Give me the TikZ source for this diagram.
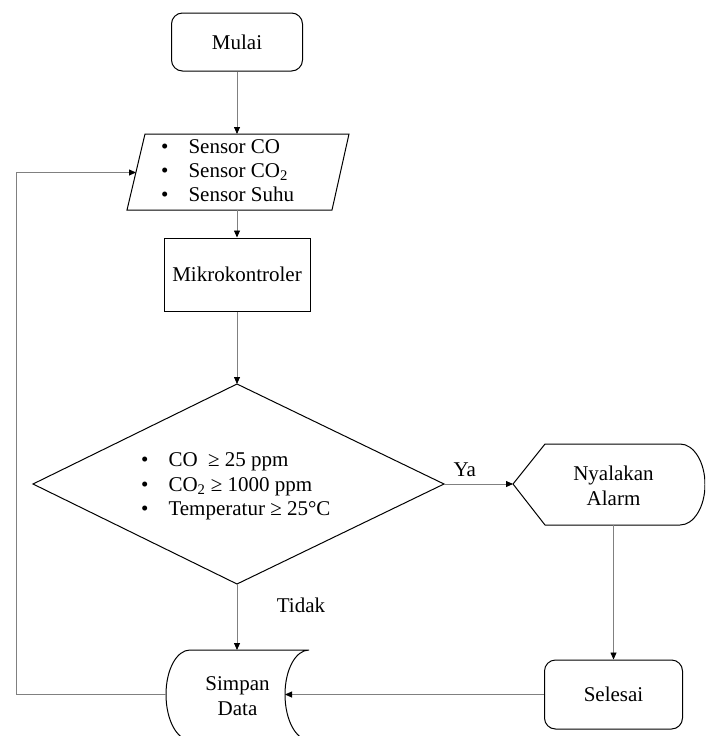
\documentclass[tikz,border=0pt]{standalone}
\usepackage{fontspec}
\setmainfont{Liberation Serif}
\usetikzlibrary{arrows.meta}
\definecolor{connc}{HTML}{808080}
\newcommand\myfs{\fontsize{21}{25}\selectfont}
\begin{document}
\begin{tikzpicture}[x=1pt,y=-1pt,
  outline/.style={draw=black, line width=1pt},
  term/.style={outline, rectangle, rounded corners=11pt, align=center, font=\myfs, inner sep=0},
  proc/.style={outline, rectangle, align=center, font=\myfs, inner sep=0},
  txt/.style={align=center, font=\myfs, inner sep=0},
  conn/.style={draw=connc, line width=0.8pt, -{Triangle[length=7pt,width=6pt,color=black]}},
  plain/.style={draw=connc, line width=0.8pt}]
\useasboundingbox (0,0) rectangle (705,736);
\clip (0,0) rectangle (705,736);

% Mulai
\node[term, minimum width=131pt, minimum height=58pt] (mulai) at (237,42) {Mulai};

% Sensor (parallelogram)
\draw[outline] (145,134) -- (349,134) -- (332,210) -- (127,210) -- cycle;
\coordinate (sensorN) at (237,134);
\coordinate (sensorS) at (237,210);
\coordinate (sensorW) at (136,172.5);
\node[anchor=west, inner sep=0] (sensortxt) at (161,172.5)
  {\fontsize{21}{24}\selectfont\begin{tabular}{@{}l@{\hspace{20pt}}l@{}}
   \textbullet & Sensor CO\\
   \textbullet & Sensor CO\textsubscript{2}\\
   \textbullet & Sensor Suhu
  \end{tabular}};

% Mikrokontroler
\node[proc, minimum width=146pt, minimum height=73pt] (mikro) at (237,274.5) {Mikrokontroler};

% Decision diamond
\draw[outline] (237,384) -- (444,484) -- (237,584) -- (33,484) -- cycle;
\coordinate (decN) at (237,384);
\coordinate (decE) at (444,484);
\coordinate (decS) at (237,584);
\node[anchor=west, inner sep=0] (dectxt) at (141,486.5)
  {\fontsize{21}{24.5}\selectfont\begin{tabular}{@{}l@{\hspace{20pt}}l@{}}
   \textbullet & CO\ \ ≥ 25 ppm\\
   \textbullet & CO\textsubscript{2} ≥ 1000 ppm\\
   \textbullet & Temperatur ≥ 25°C
  \end{tabular}};

% Nyalakan Alarm (display)
\draw[outline] (513,484) -- (545,444) -- (680,444)
  .. controls (693.8,444) and (705,462.1) .. (705,484.5)
  .. controls (705,506.9) and (693.8,525) .. (680,525)
  -- (545,525) -- cycle;
\coordinate (nyalW) at (513,484);
\coordinate (nyalS) at (613.5,525);
\node[txt] (nyaltxt) at (613.5,485.5) {Nyalakan\\Alarm};

% Selesai
\node[term, minimum width=138pt, minimum height=69pt] (selesai) at (613.5,694.5) {Selesai};

% Simpan Data (stored data)
\draw[outline] (309,650) -- (190,650)
  .. controls (176.7,650) and (166,669.6) .. (166,694.5)
  .. controls (166,719.4) and (176.7,740) .. (190,740)
  -- (309,740)
  .. controls (295.7,740) and (285,719.4) .. (285,694.5)
  .. controls (285,669.6) and (295.7,650) .. (309,650);
\coordinate (simpanN) at (237,650);
\coordinate (simpanE) at (285,694.5);
\coordinate (simpanW) at (166,694.5);
\coordinate (loopL) at (16,172.5);
\node[txt] (simpantxt) at (237.5,696) {Simpan\\Data};

% Connectors
\draw[conn] (mulai.south) -- (sensorN);
\draw[conn] (sensorS) -- (mikro.north);
\draw[conn] (mikro.south) -- (decN);
\draw[conn] (decE) -- node[txt, above=7pt, pos=0.3] (ya) {Ya} (nyalW);
\draw[conn] (nyalS) -- (selesai.north);
\draw[conn] (selesai.west) -- (simpanE);
\draw[conn] (decS) -- (simpanN);
\draw[conn] (simpanW) -| (loopL) -- (sensorW);
\node[txt] (tidak) at (301,605) {Tidak};
\end{tikzpicture}
\end{document}
